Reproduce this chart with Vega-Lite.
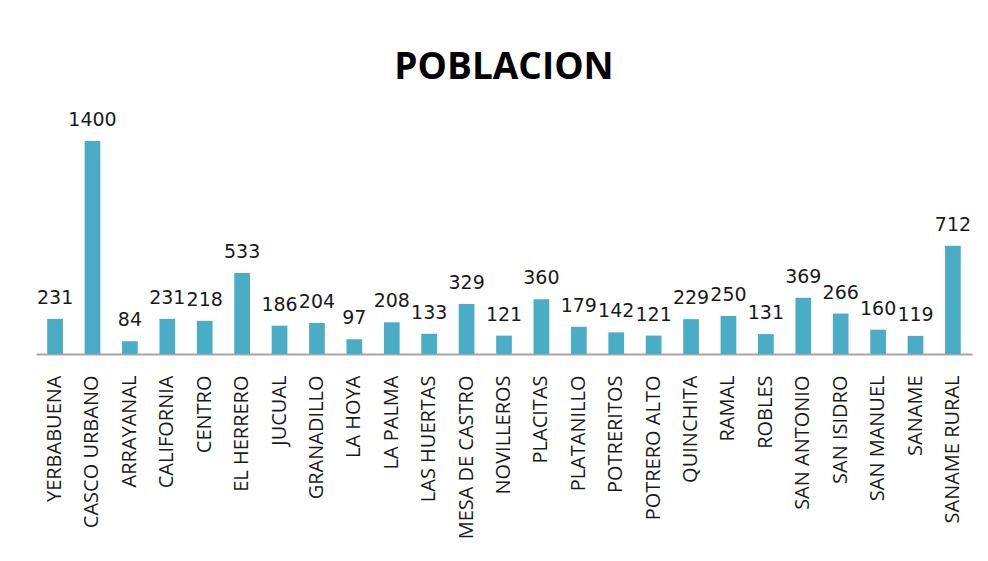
{
  "$schema": "https://vega.github.io/schema/vega-lite/v6.json",
  "autosize": "none",
  "width": 936,
  "height": 213,
  "padding": {"left": 36, "top": 141, "right": 16, "bottom": 207},
  "background": "white",
  "title": {
    "text": "POBLACION",
    "font": "Open Sans",
    "fontSize": 37,
    "fontWeight": "bold",
    "color": "#000000",
    "anchor": "middle",
    "offset": 24
  },
  "data": {
    "values": [
      {"lugar": "YERBABUENA", "poblacion": 231},
      {"lugar": "CASCO URBANO", "poblacion": 1400},
      {"lugar": "ARRAYANAL", "poblacion": 84},
      {"lugar": "CALIFORNIA", "poblacion": 231},
      {"lugar": "CENTRO", "poblacion": 218},
      {"lugar": "EL HERRERO", "poblacion": 533},
      {"lugar": "JUCUAL", "poblacion": 186},
      {"lugar": "GRANADILLO", "poblacion": 204},
      {"lugar": "LA HOYA", "poblacion": 97},
      {"lugar": "LA PALMA", "poblacion": 208},
      {"lugar": "LAS HUERTAS", "poblacion": 133},
      {"lugar": "MESA DE CASTRO", "poblacion": 329},
      {"lugar": "NOVILLEROS", "poblacion": 121},
      {"lugar": "PLACITAS", "poblacion": 360},
      {"lugar": "PLATANILLO", "poblacion": 179},
      {"lugar": "POTRERITOS", "poblacion": 142},
      {"lugar": "POTRERO ALTO", "poblacion": 121},
      {"lugar": "QUINCHITA", "poblacion": 229},
      {"lugar": "RAMAL", "poblacion": 250},
      {"lugar": "ROBLES", "poblacion": 131},
      {"lugar": "SAN ANTONIO", "poblacion": 369},
      {"lugar": "SAN ISIDRO", "poblacion": 266},
      {"lugar": "SAN MANUEL", "poblacion": 160},
      {"lugar": "SANAME", "poblacion": 119},
      {"lugar": "SANAME RURAL", "poblacion": 712}
    ]
  },
  "encoding": {
    "x": {
      "field": "lugar",
      "type": "nominal",
      "sort": null,
      "scale": {"paddingInner": 0.58, "paddingOuter": 0.3},
      "axis": {
        "title": null,
        "labelAngle": -90,
        "labelAlign": "right",
        "labelBaseline": "middle",
        "labelFont": "Open Sans",
        "labelFontSize": 20,
        "labelColor": "#1a1a1a",
        "labelPadding": 21,
        "ticks": false,
        "domainColor": "#a6a6a6",
        "domainWidth": 2,
        "grid": false
      }
    },
    "y": {
      "field": "poblacion",
      "type": "quantitative",
      "scale": {"domain": [0, 1400], "nice": false},
      "axis": null
    }
  },
  "layer": [
    {"mark": {"type": "bar", "color": "#4bacc6"}},
    {
      "mark": {
        "type": "text",
        "baseline": "alphabetic",
        "dy": -15,
        "font": "DejaVu Sans",
        "fontSize": 19,
        "color": "#1a1a1a"
      },
      "encoding": {"text": {"field": "poblacion", "type": "quantitative"}}
    }
  ],
  "config": {"view": {"stroke": null}}
}
